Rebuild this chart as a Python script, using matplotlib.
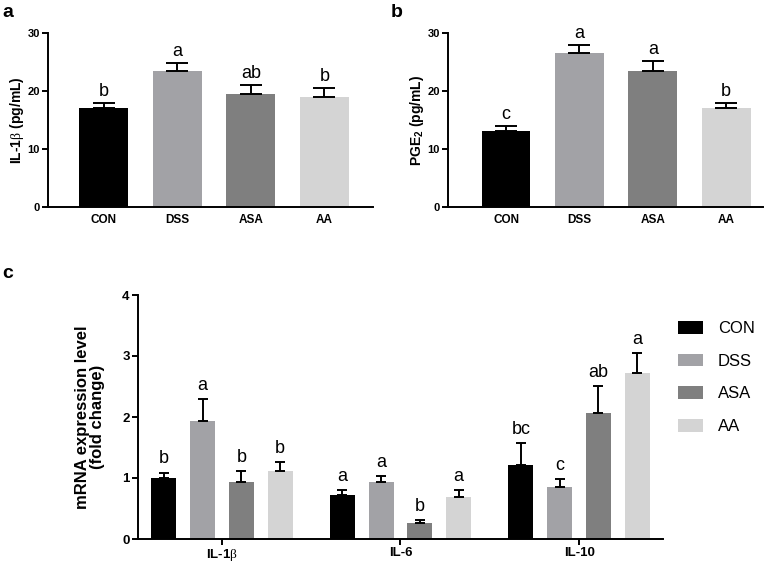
"""
Serum cytokines (a, b) and colonic mRNA expression (c) bar charts.
"""

import numpy as np
import matplotlib
matplotlib.use('Agg')
import matplotlib.pyplot as plt
from matplotlib.patches import Patch

plt.rcParams['font.family'] = ['Liberation Sans', 'DejaVu Sans']
plt.rcParams['mathtext.fontset'] = 'custom'
plt.rcParams['mathtext.it'] = 'Liberation Serif'
plt.rcParams['mathtext.rm'] = 'Liberation Sans:bold'
plt.rcParams['mathtext.bf'] = 'Liberation Sans:bold'

# groups and bar colours
groups = ['CON', 'DSS', 'ASA', 'AA']
group_colors = ['#000000', '#a2a2a6', '#7f7f7f', '#d4d4d4']

# panel a: serum IL-1beta (pg/mL)
il1b_serum = [17.0, 23.5, 19.5, 18.9]
il1b_serum_err = [1.0, 1.4, 1.5, 1.7]
il1b_serum_letters = ['b', 'a', 'ab', 'b']

# panel b: serum PGE2 (pg/mL)
pge2 = [13.1, 26.6, 23.4, 17.0]
pge2_err = [0.9, 1.4, 1.8, 1.0]
pge2_letters = ['c', 'a', 'a', 'b']

# panel c: mRNA expression (fold change), one list per group over genes
genes = [r'IL-1$\beta$', 'IL-6', 'IL-10']
mrna_con = [1.00, 0.72, 1.22]
mrna_con_err = [0.09, 0.08, 0.35]
mrna_dss = [1.93, 0.93, 0.85]
mrna_dss_err = [0.36, 0.10, 0.13]
mrna_asa = [0.94, 0.27, 2.06]
mrna_asa_err = [0.17, 0.04, 0.45]
mrna_aa = [1.12, 0.69, 2.72]
mrna_aa_err = [0.15, 0.11, 0.33]
mrna_letters = [['b', 'a', 'bc'], ['a', 'a', 'c'], ['b', 'b', 'ab'], ['b', 'a', 'a']]

W, H = 777, 571


def px_axes(fig, left, top, right, bottom):
    """Add axes from pixel edges (top-left origin)."""
    return fig.add_axes([left / W, 1 - bottom / H, (right - left) / W, (bottom - top) / H])


def style_axes(ax, tick_size, tick_len):
    for side in ['top', 'right']:
        ax.spines[side].set_visible(False)
    for side in ['left', 'bottom']:
        ax.spines[side].set_linewidth(1.4)
    ax.tick_params(direction='out', length=tick_len, width=1.4, labelsize=tick_size, pad=2)
    for lab in ax.get_yticklabels():
        lab.set_fontweight('bold')


def serum_panel(ax, values, errs, letters, ylabel, xlim):
    x = np.arange(len(groups))
    ax.bar(x, values, width=0.667, color=group_colors, zorder=2)
    ax.errorbar(x, values, yerr=[np.zeros(len(errs)), errs], fmt='none',
                ecolor='black', elinewidth=1.4, capsize=8, capthick=1.4, zorder=3)
    for xi, v, e, let in zip(x, values, errs, letters):
        ax.annotate(let, (xi, v + e), xytext=(0, 5), textcoords='offset points',
                    ha='center', va='baseline', fontsize=13)
    ax.set_xlim(*xlim)
    ax.set_ylim(0, 30)
    ax.set_yticks([0, 10, 20, 30])
    ax.set_xticks(x)
    ax.set_xticklabels(groups, fontweight='bold')
    style_axes(ax, 8, 4)
    ax.tick_params(axis='x', length=0, pad=5, labelsize=8.5)
    ax.set_ylabel(ylabel, fontsize=10, fontweight='bold', va='center')
    ax.yaxis.set_label_coords(-0.095, 0.5)


fig = plt.figure(figsize=(W / 100, H / 100), dpi=100)

# panel a
ax_a = px_axes(fig, 48, 33, 373, 207)
serum_panel(ax_a, il1b_serum, il1b_serum_err, il1b_serum_letters,
            r'IL-1$\beta$ (pg/mL)', (-0.76, 3.66))

# panel b
ax_b = px_axes(fig, 448, 33, 763, 207)
serum_panel(ax_b, pge2, pge2_err, pge2_letters, r'PGE$_2$ (pg/mL)', (-0.79, 3.5))
ax_b.yaxis.set_label_coords(-0.098, 0.5)

# panel c
ax_c = px_axes(fig, 138, 295, 663, 539)
gx = np.arange(len(genes))
step = 0.217
series = [(mrna_con, mrna_con_err), (mrna_dss, mrna_dss_err),
          (mrna_asa, mrna_asa_err), (mrna_aa, mrna_aa_err)]
for i, (vals, errs) in enumerate(series):
    xs = gx + (i - 1.5) * step
    ax_c.bar(xs, vals, width=0.14, color=group_colors[i], zorder=2)
    ax_c.errorbar(xs, vals, yerr=[np.zeros(len(errs)), errs], fmt='none',
                  ecolor='black', elinewidth=1.4, capsize=3.5, capthick=1.4, zorder=3)
    for xi, v, e, let in zip(xs, vals, errs, mrna_letters[i]):
        ax_c.annotate(let, (xi, v + e), xytext=(0, 6.5), textcoords='offset points',
                      ha='center', va='baseline', fontsize=13)
ax_c.set_xlim(-0.47, 2.47)
ax_c.set_ylim(0, 4)
ax_c.set_yticks([0, 1, 2, 3, 4])
ax_c.set_xticks(gx)
ax_c.set_xticklabels(genes, fontweight='bold')
style_axes(ax_c, 9.5, 4)
ax_c.set_ylabel('mRNA expression level\n(fold change)', fontsize=12,
                fontweight='bold', va='center', linespacing=1.0)
ax_c.yaxis.set_label_coords(-0.092, 0.5)

handles = [Patch(facecolor=c) for c in group_colors]
fig.legend(handles, groups, loc='upper left', bbox_to_anchor=(678 / W, 1 - 321 / H),
           frameon=False, fontsize=12, handlelength=1.5, handleheight=0.8,
           handletextpad=0.9, labelspacing=1.05, borderpad=0, borderaxespad=0)

# panel letters
fig.text(2 / W, 1 - 17 / H, 'a', fontsize=14, fontweight='bold', va='baseline')
fig.text(391 / W, 1 - 17 / H, 'b', fontsize=14, fontweight='bold', va='baseline')
fig.text(2 / W, 1 - 278 / H, 'c', fontsize=14, fontweight='bold', va='baseline')

plt.savefig('out.png', dpi=100)
plt.close()
